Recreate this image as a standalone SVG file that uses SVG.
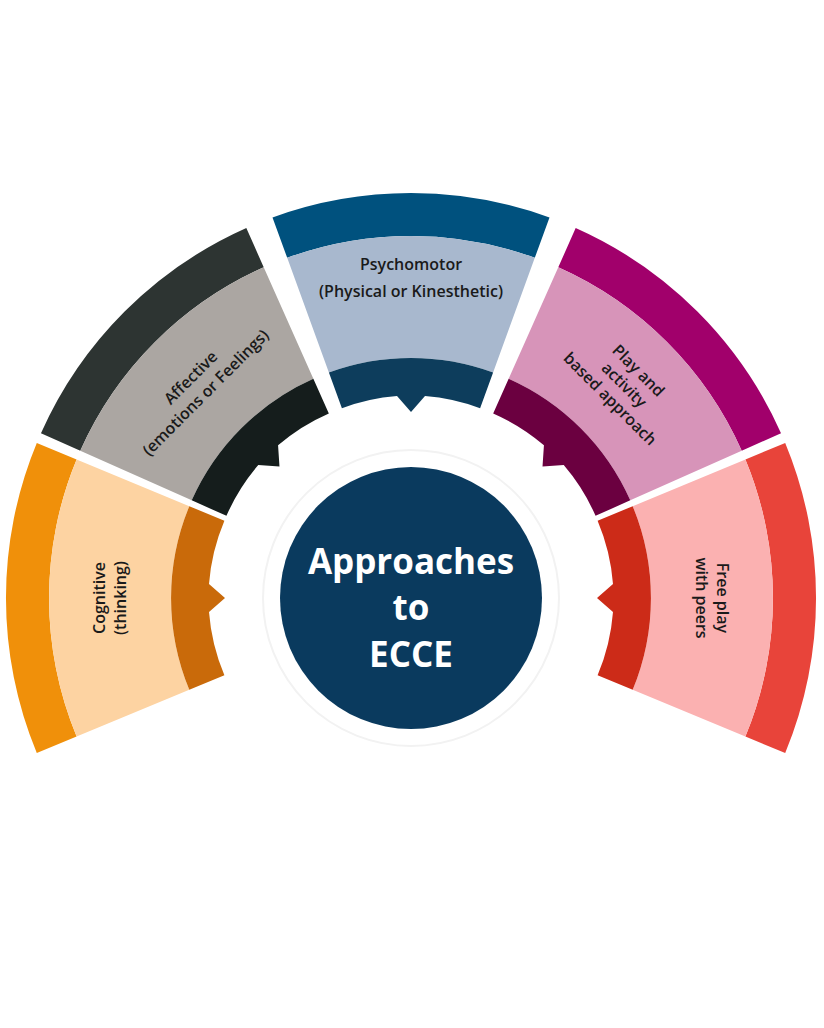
<svg xmlns="http://www.w3.org/2000/svg" width="824" height="1028" viewBox="0 0 824 1028">
<defs>
<style>
text{font-family:"Open Sans","Liberation Sans",sans-serif;font-weight:600;text-anchor:middle;fill:#1a1a1a;font-size:16px}
.c{fill:#fff;font-size:35px;font-weight:bold}
</style>
<path id="o20" d="M272.5,217.4 A405,405 0 0 1 549.5,217.4 L534.8,257.8 A362,362 0 0 0 287.2,257.8 Z"/>
<path id="l20" d="M287.2,257.8 A362,362 0 0 1 534.8,257.8 L493.1,372.5 A240,240 0 0 0 328.9,372.5 Z"/>
<path id="i20" d="M328.9,372.5 A240,240 0 0 1 493.1,372.5 L480.1,408.2 A202,202 0 0 0 425,396 L411,412 L397,396 A202,202 0 0 0 341.9,408.2 Z"/>
<path id="o21" d="M265.8,219.9 A405,405 0 0 1 556.2,219.9 L540.7,260 A362,362 0 0 0 281.3,260 Z"/>
<path id="l21" d="M281.3,260 A362,362 0 0 1 540.7,260 L497,373.9 A240,240 0 0 0 325,373.9 Z"/>
<path id="i21" d="M325,373.9 A240,240 0 0 1 497,373.9 L483.4,409.4 A202,202 0 0 0 425,396 L411,412 L397,396 A202,202 0 0 0 338.6,409.4 Z"/>
<path id="o22" d="M256,223.8 A405,405 0 0 1 566,223.8 L549.5,263.6 A362,362 0 0 0 272.5,263.6 Z"/>
<path id="l22" d="M272.5,263.6 A362,362 0 0 1 549.5,263.6 L502.8,376.3 A240,240 0 0 0 319.2,376.3 Z"/>
<path id="i22" d="M319.2,376.3 A240,240 0 0 1 502.8,376.3 L488.3,411.4 A202,202 0 0 0 425,396 L411,412 L397,396 A202,202 0 0 0 333.7,411.4 Z"/>
</defs>
<rect width="824" height="1028" fill="#fff"/>
<g id="cognitive" transform="rotate(-90 411 598)">
<use href="#o22" fill="#F0900A"/><use href="#l22" fill="#FDD3A2"/><use href="#i22" fill="#C96A0A"/>
<text x="411" y="292">Cognitive</text><text x="411" y="313">(thinking)</text>
</g>
<g id="affective" transform="rotate(-45 411 598)">
<use href="#o21" fill="#2D3432"/><use href="#l21" fill="#ABA6A2"/><use href="#i21" fill="#151D1C"/>
<text x="411" y="292">Affective</text><text x="411" y="313">(emotions or Feelings)</text>
</g>
<g id="psychomotor">
<use href="#o20" fill="#00517E"/><use href="#l20" fill="#A8B8CE"/><use href="#i20" fill="#0D3D5C"/>
<text x="411" y="270">Psychomotor</text><text x="411" y="297">(Physical or Kinesthetic)</text>
</g>
<g id="play" transform="rotate(45 411 598)">
<use href="#o21" fill="#A1006B"/><use href="#l21" fill="#D794B9"/><use href="#i21" fill="#6B0040"/>
<text x="411" y="282">Play and</text><text x="411" y="302">activity</text><text x="411" y="322">based approach</text>
</g>
<g id="freeplay" transform="rotate(90 411 598)">
<use href="#o22" fill="#E8443A"/><use href="#l22" fill="#FBB1B1"/><use href="#i22" fill="#CC2B18"/>
<text x="411" y="292">Free play</text><text x="411" y="313">with peers</text>
</g>
<g id="center">
<circle cx="411" cy="598" r="148" fill="#fff" stroke="#f2f2f2" stroke-width="2"/>
<circle cx="411" cy="598" r="131" fill="#0A3A5E"/>
<text class="c" x="411" y="574">Approaches</text>
<text class="c" x="411" y="620">to</text>
<text class="c" x="411" y="667">ECCE</text>
</g>
<g id="connectors"/>
</svg>
